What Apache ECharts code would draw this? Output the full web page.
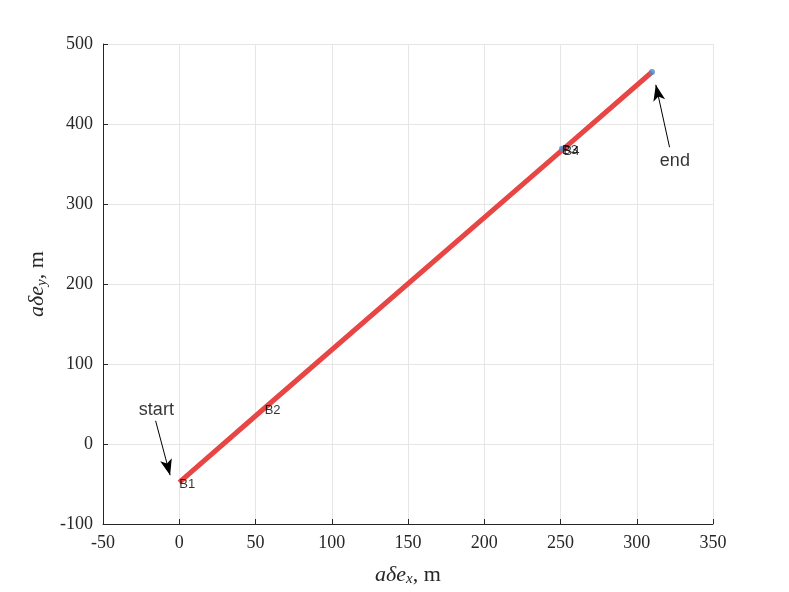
<!DOCTYPE html>
<html><head><meta charset="utf-8">
<script src="https://cdn.jsdelivr.net/npm/echarts@6/dist/echarts.min.js"></script>
<style>html,body{margin:0;padding:0;background:#fff}#c{width:789px;height:592px}</style>
</head><body><div id="c"></div>
<script>
const trajX = [0, 56, 252, 310];
const trajY = [-48, 45, 369, 465];
const pointNames = ['B1', 'B2', 'B3', 'B4'];
const pointX = [0, 56, 251, 252];
const pointY = [-48, 44, 369, 368];
const endPoint = [310, 465];
const xTicks = [-50, 0, 50, 100, 150, 200, 250, 300, 350];
const yTicks = [-100, 0, 100, 200, 300, 400, 500];
const startText = [-15, 42];
const startArrow = [[-15.5, 29], [-6, -39]];
const endText = [325, 354];
const endArrow = [[321.5, 371], [312.5, 449]];

const serif = 'Liberation Serif';
const chart = echarts.init(document.getElementById('c'));
const rich = {
  i: {fontFamily: serif, fontStyle: 'italic', fontSize: 22, color: '#262626'},
  s: {fontFamily: serif, fontStyle: 'italic', fontSize: 15, color: '#262626', verticalAlign: 'bottom', padding: [9, 0, 0, 0]},
  n: {fontFamily: serif, fontSize: 22, color: '#262626'}
};
const axisCommon = {
  axisLine: {show: true, onZero: false, lineStyle: {color: '#262626', width: 1}},
  axisTick: {show: true, inside: true, length: 5, lineStyle: {color: '#262626'}},
  splitLine: {show: true, lineStyle: {color: '#e6e6e6', width: 1}},
  axisLabel: {color: '#262626', fontFamily: serif, fontSize: 18, margin: 10},
  nameTextStyle: {rich: rich}
};
chart.setOption({
  animation: false,
  grid: {left: 103, right: 76, top: 44, bottom: 66},
  xAxis: Object.assign({}, axisCommon, {
    type: 'value', min: xTicks[0], max: xTicks[xTicks.length - 1], interval: 50,
    name: '{i|aδe}{s|x}{n|, m}', nameLocation: 'middle', nameGap: 39
  }),
  yAxis: Object.assign({}, axisCommon, {
    type: 'value', min: yTicks[0], max: yTicks[yTicks.length - 1], interval: 100,
    name: '{i|aδe}{s|y}{n|, m}', nameLocation: 'middle', nameGap: 46
  }),
  series: [
    {
      type: 'line', data: trajX.map((x, i) => [x, trajY[i]]),
      showSymbol: false, lineStyle: {color: '#e84545', width: 5}, z: 3,
      markLine: {
        silent: true, symbol: ['none', 'arrow'], symbolSize: [9, 16],
        lineStyle: {color: '#000', width: 1, type: 'solid'},
        label: {show: false},
        data: [
          [{coord: startArrow[0]}, {coord: startArrow[1]}],
          [{coord: endArrow[0]}, {coord: endArrow[1]}]
        ]
      }
    },
    {
      type: 'scatter', data: [endPoint, [pointX[2], pointY[2]]], symbolSize: 6,
      itemStyle: {color: '#4a8bc4'}, z: 4
    },
    {
      type: 'scatter', symbolSize: 0, z: 5,
      data: pointNames.map((n, i) => ({value: [pointX[i], pointY[i]], name: n})),
      label: {show: true, formatter: '{b}', position: 'right', distance: 0, offset: [0, 2],
        fontFamily: 'Liberation Sans', fontSize: 13, color: '#000', textBorderWidth: 0}
    },
    {
      type: 'scatter', symbolSize: 0, z: 5,
      data: [{value: startText, name: 'start'}, {value: endText, name: 'end'}],
      label: {show: true, formatter: '{b}', position: 'inside',
        fontFamily: 'Liberation Sans', fontSize: 18, color: '#000', textBorderWidth: 0}
    }
  ]
});
</script></body></html>
